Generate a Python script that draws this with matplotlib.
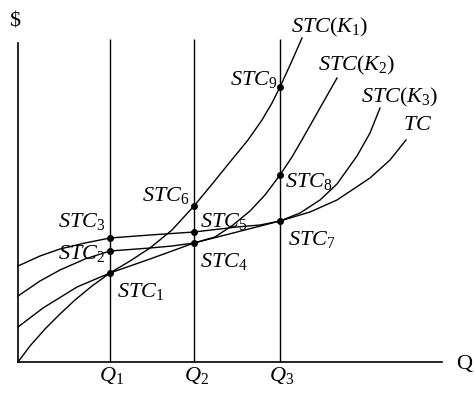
import matplotlib.pyplot as plt
import numpy as np

plt.rcParams['mathtext.fontset'] = 'custom'
plt.rcParams['mathtext.rm'] = 'Liberation Serif'
plt.rcParams['mathtext.it'] = 'Liberation Serif:italic'
plt.rcParams['font.family'] = 'Liberation Serif'

# output levels on the Q axis
q_marks = [9.2, 17.6, 26.2]
q_labels = ['$Q_1$', '$Q_2$', '$Q_3$']

# short run cost curves
q_k1 = [0, 1.2, 2.7, 4.2, 5.7, 7.4, 9.2, 11.2, 13.2, 15.4, 17.6, 19.5, 21.2, 23.0, 24.4, 25.4, 26.2, 27.3, 28.4]
c_k1 = [0, 1.6, 3.3, 4.8, 6.2, 7.6, 8.9, 10.1, 11.4, 13.2, 15.6, 17.9, 20.0, 22.2, 24.2, 25.9, 27.5, 29.9, 32.4]

q_k2 = [0, 2.2, 4.2, 6.7, 9.2, 11.2, 13.2, 15.4, 17.6, 19.7, 21.5, 23.2, 24.7, 26.2, 27.4, 28.5, 30.2, 31.9]
c_k2 = [6.6, 8.1, 9.2, 10.3, 11.1, 11.25, 11.4, 11.6, 11.9, 12.5, 13.7, 15.1, 16.7, 18.7, 20.5, 22.4, 25.4, 28.4]

q_k3 = [0, 2.2, 4.2, 6.7, 9.2, 13.2, 17.6, 21.9, 24.2, 26.2, 28.2, 30.2, 31.9, 33.9, 35.2, 36.2]
c_k3 = [9.6, 10.6, 11.3, 11.9, 12.4, 12.7, 13.0, 13.5, 13.7, 14.1, 14.9, 16.2, 17.8, 20.6, 22.9, 25.4]

# long run total cost (envelope)
q_tc = [0, 2.5, 5.9, 9.2, 13.2, 17.6, 21.9, 26.2, 29.2, 31.9, 35.2, 37.2, 38.8]
c_tc = [3.5, 5.4, 7.5, 8.9, 10.3, 11.9, 13.0, 14.1, 15.0, 16.2, 18.4, 20.2, 22.2]

# marked points STC1..STC9
pt_q = [9.2, 9.2, 9.2, 17.6, 17.6, 17.6, 26.2, 26.2, 26.2]
pt_c = [8.9, 11.1, 12.4, 11.9, 13.0, 15.6, 14.1, 18.7, 27.5]

fig = plt.figure(figsize=(4.74, 3.95), dpi=100)
ax = fig.add_axes([0, 0, 1, 1])
ax.set_xlim(-1.8, 45.6)
ax.set_ylim(-3.3, 36.2)
for s in ['top', 'right']:
    ax.spines[s].set_visible(False)
ax.spines['left'].set_position(('data', 0))
ax.spines['bottom'].set_position(('data', 0))
ax.spines['left'].set_bounds(0, 31.9)
ax.spines['bottom'].set_bounds(0, 42.4)
ax.spines['left'].set_linewidth(1.2)
ax.spines['bottom'].set_linewidth(1.2)
ax.set_xticks([])
ax.set_yticks([])

ax.vlines(q_marks, 0, 32.3, color='black', lw=1.0)

for qq, cc in [(q_k1, c_k1), (q_k2, c_k2), (q_k3, c_k3), (q_tc, c_tc)]:
    ax.plot(qq, cc, color='black', lw=1.0, clip_on=False)

ax.plot(pt_q, pt_c, 'o', color='black', ms=4, clip_on=False)

fs = 16
ax.text(31.2, 33.5, '$STC(K_1)$', fontsize=fs, ha='center', va='center')
ax.text(33.9, 29.7, '$STC(K_2)$', fontsize=fs, ha='center', va='center')
ax.text(38.2, 26.5, '$STC(K_3)$', fontsize=fs, ha='center', va='center')
ax.text(40.0, 23.7, '$TC$', fontsize=fs, ha='center', va='center')

ax.text(8.7, 14.1, '$STC_3$', fontsize=fs, ha='right', va='center')
ax.text(8.7, 10.8, '$STC_2$', fontsize=fs, ha='right', va='center')
ax.text(9.9, 7.1, '$STC_1$', fontsize=fs, ha='left', va='center')
ax.text(18.2, 10.1, '$STC_4$', fontsize=fs, ha='left', va='center')
ax.text(18.2, 14.1, '$STC_5$', fontsize=fs, ha='left', va='center')
ax.text(17.2, 16.6, '$STC_6$', fontsize=fs, ha='right', va='center')
ax.text(27.0, 12.3, '$STC_7$', fontsize=fs, ha='left', va='center')
ax.text(26.7, 18.0, '$STC_8$', fontsize=fs, ha='left', va='center')
ax.text(25.9, 28.2, '$STC_9$', fontsize=fs, ha='right', va='center')

for qm, lab in zip(q_marks, q_labels):
    ax.text(qm + 0.2, -1.4, lab, fontsize=fs, ha='center', va='center')

ax.text(43.8, -0.3, 'Q', fontsize=fs, ha='left', va='center')
ax.text(-0.3, 34.0, '$', fontsize=fs, ha='center', va='center')

plt.savefig('out.png')
